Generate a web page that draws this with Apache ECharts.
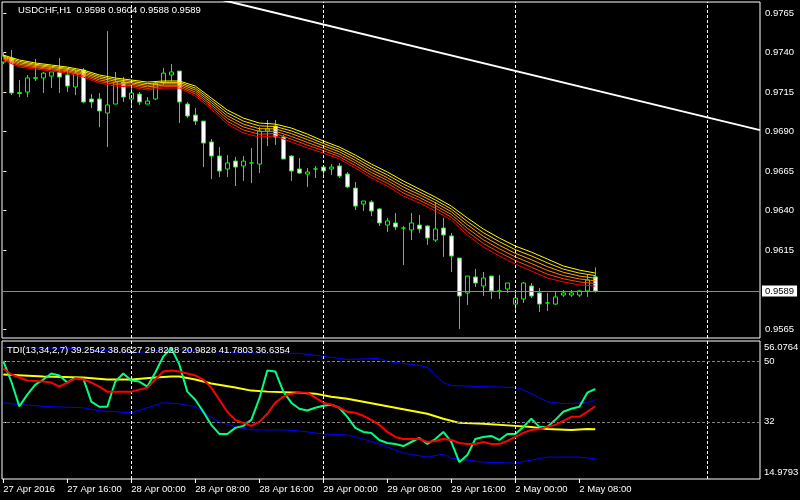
<!DOCTYPE html>
<html><head><meta charset="utf-8">
<script src="https://cdn.jsdelivr.net/npm/echarts@6/dist/echarts.min.js"></script>
<style>html,body{margin:0;padding:0;background:#000;}#c{width:800px;height:500px;}</style>
</head><body><div id="c"></div>
<script>
const symbolTitle = 'USDCHF,H1  0.9598 0.9604 0.9588 0.9589';
const tdiTitle = 'TDI(13,34,2,7) 39.2542 38.6627 29.8228 20.9828 41.7803 36.6354';
const timeLabels = ['27 Apr 2016','27 Apr 16:00','28 Apr 00:00','28 Apr 08:00','28 Apr 16:00','29 Apr 00:00','29 Apr 08:00','29 Apr 16:00','2 May 00:00','2 May 08:00'];
const timeLabelBars = [0,8,16,24,32,40,48,56,64,72];
const daySeparatorBars = [16,40,64,88];
const priceTicks = [0.9765,0.9740,0.9715,0.9690,0.9665,0.9640,0.9615,0.9565];
const tdiTicks = [14.9793,32,50,56.0764];
const tdiTickLabels = ['14.9793','32','50','56.0764'];
const tdiLevels = [50,32];
const bidPrice = 0.9589;

const opens  = [0.97340,0.97365,0.97141,0.97150,0.97237,0.97239,0.97251,0.97277,0.97258,0.97182,
0.97289,0.97106,0.97106,0.97017,0.97074,0.97213,0.97106,0.97137,0.97074,0.97106,
0.97213,0.97258,0.97283,0.97074,0.97004,0.96966,0.96834,0.96745,0.96663,0.96713,
0.96682,0.96701,0.96694,0.96903,0.96935,0.96865,0.96745,0.96663,0.96631,0.96663,
0.96675,0.96663,0.96682,0.96631,0.96542,0.96441,0.96454,0.96410,0.96308,0.96321,
0.96289,0.96277,0.96308,0.96302,0.96213,0.96289,0.96239,0.96099,0.95878,0.95979,
0.95922,0.95985,0.95891,0.95903,0.95808,0.95840,0.95922,0.95878,0.95815,0.95808,
0.95865,0.95865,0.95865,0.95891,0.9598];
const highs  = [0.97403,0.97416,0.97226,0.97258,0.97359,0.97277,0.97277,0.97365,0.97302,0.97289,
0.97302,0.97137,0.97144,0.97536,0.97277,0.97245,0.97182,0.97150,0.97118,0.97220,
0.97302,0.97327,0.97283,0.97087,0.97049,0.96966,0.96853,0.96802,0.96751,0.96739,
0.96745,0.96796,0.96928,0.96973,0.96973,0.96878,0.96751,0.96732,0.96669,0.96682,
0.96688,0.96694,0.96701,0.96644,0.96580,0.96460,0.96466,0.96416,0.96353,0.96384,
0.96302,0.96384,0.96372,0.96308,0.96454,0.96353,0.96258,0.96099,0.95985,0.96030,
0.96011,0.95985,0.95992,0.95941,0.95878,0.95948,0.95941,0.95910,0.95878,0.95884,
0.95897,0.95897,0.95897,0.95992,0.9604];
const lows   = [0.97327,0.97131,0.97118,0.97118,0.97220,0.97144,0.97175,0.97144,0.97150,0.97131,
0.97080,0.97049,0.96928,0.96802,0.97074,0.97087,0.97068,0.97068,0.97074,0.97099,
0.97194,0.97220,0.96954,0.96985,0.96941,0.96675,0.96599,0.96612,0.96612,0.96555,
0.96587,0.96574,0.96637,0.96808,0.96815,0.96726,0.96587,0.96631,0.96549,0.96606,
0.96606,0.96625,0.96606,0.96542,0.96403,0.96397,0.96365,0.96302,0.96264,0.96277,
0.96055,0.96213,0.96258,0.96182,0.96201,0.96106,0.96011,0.95650,0.95802,0.95916,
0.95859,0.95840,0.95840,0.95878,0.95770,0.95815,0.95846,0.95758,0.95764,0.95802,
0.95853,0.95853,0.95853,0.95853,0.9588];
const closes = [0.97378,0.97144,0.97147,0.97239,0.97241,0.97270,0.97277,0.97245,0.97188,0.97270,
0.97087,0.97087,0.97030,0.97068,0.97213,0.97118,0.97144,0.97087,0.97093,0.97207,
0.97270,0.97277,0.97087,0.96998,0.96966,0.96827,0.96745,0.96650,0.96701,0.96675,
0.96713,0.96701,0.96903,0.96916,0.96865,0.96726,0.96650,0.96637,0.96644,0.96663,
0.96650,0.96675,0.96618,0.96549,0.96428,0.96460,0.96397,0.96321,0.96334,0.96296,
0.96289,0.96321,0.96283,0.96226,0.96283,0.96245,0.96112,0.95859,0.95985,0.95941,
0.95973,0.95891,0.95891,0.95941,0.95846,0.95941,0.95859,0.95808,0.95815,0.95853,
0.95878,0.95878,0.95891,0.95960,0.9589];

const maBars = [0,2,4,6,8,10,12,14,16,18,20,22,24,26,28,30,32,34,36,38,40,42,44,46,48,50,52,54,56,58,60,62,64,66,68,70,72,74];
const maYellow = [0.97384,0.97353,0.97334,0.97321,0.97308,0.97289,0.97258,0.97239,0.97226,0.97213,0.97220,0.97220,0.97188,0.97112,0.97036,0.96985,0.96954,0.96947,0.96922,0.96884,0.96840,0.96802,0.96751,0.96694,0.96644,0.96587,0.96536,0.96485,0.96428,0.96353,0.96283,0.96226,0.96175,0.96137,0.96093,0.96049,0.96023,0.96004];
const maGold = [0.97378,0.97344,0.97326,0.97313,0.97300,0.97280,0.97248,0.97229,0.97217,0.97203,0.97211,0.97211,0.97175,0.97098,0.97018,0.96966,0.96936,0.96932,0.96904,0.96866,0.96825,0.96787,0.96735,0.96676,0.96626,0.96568,0.96518,0.96467,0.96410,0.96331,0.96260,0.96203,0.96152,0.96113,0.96069,0.96029,0.96004,0.95988];
const maOrange = [0.97372,0.97335,0.97319,0.97306,0.97293,0.97271,0.97238,0.97219,0.97208,0.97193,0.97202,0.97202,0.97163,0.97084,0.97000,0.96947,0.96918,0.96917,0.96887,0.96849,0.96810,0.96772,0.96718,0.96659,0.96608,0.96549,0.96501,0.96450,0.96393,0.96310,0.96237,0.96180,0.96129,0.96089,0.96045,0.96009,0.95985,0.95971];
const maDarkOrange = [0.97365,0.97326,0.97311,0.97298,0.97285,0.97263,0.97227,0.97208,0.97200,0.97183,0.97193,0.97193,0.97150,0.97070,0.96983,0.96929,0.96901,0.96902,0.96869,0.96831,0.96794,0.96756,0.96702,0.96641,0.96591,0.96530,0.96483,0.96432,0.96375,0.96288,0.96215,0.96158,0.96107,0.96065,0.96021,0.95988,0.95967,0.95955];
const maOrangeRed = [0.97359,0.97317,0.97304,0.97291,0.97278,0.97254,0.97217,0.97198,0.97191,0.97173,0.97184,0.97184,0.97138,0.97056,0.96965,0.96910,0.96883,0.96887,0.96852,0.96814,0.96779,0.96741,0.96685,0.96624,0.96573,0.96511,0.96466,0.96415,0.96358,0.96267,0.96192,0.96135,0.96084,0.96041,0.95997,0.95968,0.95948,0.95938];
const maRed = [0.97353,0.97308,0.97296,0.97283,0.97270,0.97245,0.97207,0.97188,0.97182,0.97163,0.97175,0.97175,0.97125,0.97042,0.96947,0.96891,0.96865,0.96872,0.96834,0.96796,0.96764,0.96726,0.96669,0.96606,0.96555,0.96492,0.96448,0.96397,0.96340,0.96245,0.96169,0.96112,0.96061,0.96017,0.95973,0.95948,0.95929,0.95922];

const trendBars = [20,94.5875];
const trendPrices = [0.97823,0.96909];

const tdiGreen = [50.1,44.0,36.6,40.1,43.1,44.6,46.4,45.8,43.7,45.2,
44.9,38.0,36.5,36.5,44.0,46.4,44.3,44.0,42.5,46.7,
51.5,53.9,49.1,41.0,38.6,35.0,31.1,28.4,28.4,30.2,
30.8,32.6,38.9,47.3,47.0,41.0,37.7,35.9,35.4,36.2,
36.8,37.1,36.2,33.5,30.2,29.0,28.7,26.6,25.7,25.4,
24.8,26.0,27.2,25.4,26.9,29.0,26.0,20.0,22.1,26.9,
27.5,27.8,26.6,28.4,28.4,30.5,32.9,30.5,30.5,32.6,
35.0,35.9,36.5,40.7,41.7803];
const tdiSignal = [47.9,46.1,45.2,44.3,44.2,44.0,43.7,42.5,43.7,44.9,
44.6,43.7,42.5,41.0,41.0,41.0,41.0,41.6,42.2,44.6,
47.0,47.3,47.0,46.4,45.8,44.6,42.2,38.6,35.0,32.6,
31.7,30.8,32.0,34.4,37.7,39.5,40.4,40.7,40.7,39.2,
37.7,37.1,36.2,35.0,34.7,33.8,32.6,31.1,29.0,27.5,
26.9,26.9,26.9,26.0,26.3,26.9,26.6,25.7,25.4,25.4,
26.0,25.4,25.4,26.3,27.5,28.7,29.6,29.9,30.5,31.1,
32.3,33.5,33.5,35.0,36.6354];
const baseBars = [0,5,10,13,16,19,21,22,24,26,29,31,33,37,39,41,43,45,47,49,51,53,55,57,60,64,66,68,71,73,74];
const baseValues = [46.1,45.5,45.2,44.6,44.6,45.2,45.5,45.5,44.6,43.4,42.2,41.3,41.0,40.7,40.4,39.5,38.9,38.0,37.1,36.2,35.3,34.4,32.9,31.7,31.4,30.8,30.5,29.9,29.6,29.9,29.8228];
const upperBars = [0,8,12,16,18,20,22,24,29,33,37,40,43,47,48,52,53,55,56,60,64,65,68,70,73,74];
const upperValues = [54.2,53.9,53.3,52.7,52.85,53.6,53.6,53.0,52.7,52.4,52.4,51.5,50.6,50.9,50.0,48.8,48.2,43.7,42.8,42.5,42.2,41.6,38.0,37.4,37.7,38.6627];
const lowerBars = [0,2,6,10,12,16,18,20,22,24,25,27,29,31,35,37,40,43,45,47,50,53,55,56,60,64,66,68,72,74];
const lowerValues = [37.7,37.1,36.5,36.2,35.3,34.7,36.2,37.7,37.4,36.5,34.7,32.0,30.5,29.6,29.6,29.3,28.4,28.1,26.9,25.4,22.7,21.5,22.4,21.2,20.0,19.7,20.6,21.5,21.5,20.9828];

const FONT = 'Liberation Sans';
const FS = 9.5;
const xMin = -0.1625, xMax = 94.5875;
const pMin = 0.95593, pMax = 0.97720;
const tMin = 14.9793, tMax = 56.0764;

const pairs = (xs, ys) => xs.map((x, i) => [x, ys[i]]);
const candleData = opens.map((o, i) => [i, o, closes[i], lows[i], highs[i]]);
const txt = {color: '#fff', fontSize: FS, fontFamily: FONT, fontWeight: 'normal'};

function lineSeries(name, data, color, width, xi, yi, z) {
  return {name, type: 'line', xAxisIndex: xi, yAxisIndex: yi, data, symbol: 'none',
    lineStyle: {color, width}, z: z, silent: true, clip: true};
}

const ribbon = [
  [maRed, '#ff0000'], [maOrangeRed, '#ff4a00'], [maDarkOrange, '#ff8000'],
  [maOrange, '#ffae00'], [maGold, '#ffd800'], [maYellow, '#ffff00']
];

const chart = echarts.init(document.getElementById('c'), null, {renderer: 'canvas', width: 800, height: 500});
chart.setOption({
  backgroundColor: '#000',
  animation: false,
  title: [
    {text: symbolTitle, left: 18, top: 5.5, padding: 0, textStyle: txt},
    {text: tdiTitle, left: 7, top: 345, padding: 0, textStyle: txt, z: 10}
  ],
  grid: [
    {left: 2, top: 2, width: 758, height: 336, show: true, borderColor: '#fff', borderWidth: 1, backgroundColor: '#000', outerBoundsMode: 'none'},
    {left: 2, top: 341, width: 758, height: 138, show: true, borderColor: '#fff', borderWidth: 1, backgroundColor: '#000', outerBoundsMode: 'none'}
  ],
  xAxis: [
    {type: 'value', gridIndex: 0, min: xMin, max: xMax, axisLine: {show: false}, axisTick: {show: false}, axisLabel: {show: false}, splitLine: {show: false}},
    {type: 'value', gridIndex: 1, min: xMin, max: xMax, axisLine: {show: false},
      axisTick: {show: true, customValues: timeLabelBars, length: 4, lineStyle: {color: '#fff'}},
      axisLabel: {show: true, customValues: timeLabelBars, align: 'left', margin: 5, ...txt,
        formatter: v => timeLabels[timeLabelBars.indexOf(Math.round(v))]},
      splitLine: {show: false}}
  ],
  yAxis: [
    {type: 'value', gridIndex: 0, position: 'right', min: pMin, max: pMax, axisLine: {show: false}, splitLine: {show: false},
      axisTick: {show: true, customValues: priceTicks, length: 3, lineStyle: {color: '#fff'}},
      axisLabel: {show: true, customValues: priceTicks, margin: 5, ...txt, formatter: v => v.toFixed(4)}},
    {type: 'value', gridIndex: 1, position: 'right', min: tMin, max: tMax, axisLine: {show: false}, splitLine: {show: false},
      axisTick: {show: true, customValues: tdiLevels, length: 3, lineStyle: {color: '#fff'}},
      axisLabel: {show: true, customValues: tdiTicks, margin: 4, ...txt,
        formatter: v => {
          let best = 0;
          tdiTicks.forEach((t, i) => { if (Math.abs(t - v) < Math.abs(tdiTicks[best] - v)) best = i; });
          const s = tdiTickLabels[best];
          if (best === tdiTicks.length - 1) return '{t|' + s + '}';
          if (best === 0) return '{b|' + s + '}';
          return s;
        },
        rich: {t: {...txt, padding: [13, 0, 0, 0]}, b: {...txt, padding: [0, 0, 14, 0]}}}}
  ],
  series: [
    {type: 'line', xAxisIndex: 0, yAxisIndex: 0, data: [], z: 1, silent: true,
      markLine: {silent: true, symbol: ['none', 'none'], label: {show: false}, precision: 6,
        lineStyle: {color: '#fff', type: [3, 2], width: 1},
        data: daySeparatorBars.map(b => ({xAxis: b}))}},
    {type: 'candlestick', xAxisIndex: 0, yAxisIndex: 0, data: candleData, encode: {x: 0, y: [1, 2, 3, 4]},
      barWidth: 5, z: 2, silent: true,
      itemStyle: {color: '#000', color0: '#fff', borderColor: '#00ff00', borderColor0: '#00ff00', borderWidth: 1}},
    ...ribbon.map(([vals, col], i) => lineSeries('ma' + i, pairs(maBars, vals), col, 1, 0, 0, 3)),
    {type: 'line', xAxisIndex: 0, yAxisIndex: 0, data: [], z: 4, silent: true, clip: false,
      markLine: {silent: true, symbol: ['none', 'none'], precision: 6,
        lineStyle: {color: '#8c8c8c', type: 'solid', width: 1},
        label: {show: true, position: 'end', distance: 2, formatter: bidPrice.toFixed(4), backgroundColor: '#fff',
          color: '#000', fontSize: FS, fontFamily: FONT, padding: [1, 3, 0, 3]},
        data: [{yAxis: bidPrice}]}},
    lineSeries('trend', pairs(trendBars, trendPrices), '#ffffff', 2, 0, 0, 5),
    {type: 'line', xAxisIndex: 1, yAxisIndex: 1, data: [], z: 1, silent: true,
      markLine: {silent: true, symbol: ['none', 'none'], label: {show: false},
        lineStyle: {color: '#fff', type: [3, 2], width: 1},
        data: daySeparatorBars.map(b => ({xAxis: b}))}},
    {type: 'line', xAxisIndex: 1, yAxisIndex: 1, data: [], z: 1, silent: true,
      markLine: {silent: true, symbol: ['none', 'none'], label: {show: false}, precision: 4,
        lineStyle: {color: '#808080', type: [3, 2], width: 1},
        data: tdiLevels.map(v => ({yAxis: v}))}},
    lineSeries('upper', pairs(upperBars, upperValues), '#0000ff', 1, 1, 1, 2),
    lineSeries('lower', pairs(lowerBars, lowerValues), '#0000ff', 1, 1, 1, 2),
    lineSeries('base', pairs(baseBars, baseValues), '#ffff00', 2, 1, 1, 3),
    lineSeries('green', tdiGreen.map((v, i) => [i, v]), '#00ff80', 2, 1, 1, 4),
    lineSeries('signal', tdiSignal.map((v, i) => [i, v]), '#ff0000', 2, 1, 1, 5)
  ]
});
</script></body></html>
